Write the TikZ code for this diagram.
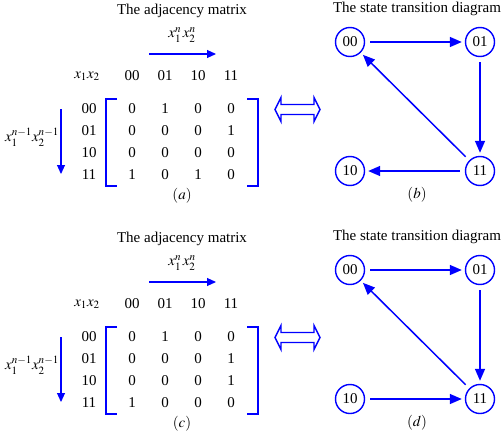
\documentclass[tikz,border=0pt]{standalone}
\usepackage{mathptmx}
\usepackage{fontspec}
\setmainfont{Liberation Serif}
\usetikzlibrary{arrows.meta}

\tikzset{
  state/.style={circle,draw=blue,line width=1.4pt,minimum size=29pt,inner sep=0pt},
  trans/.style={draw=blue,line width=1.5pt,shorten <=5pt,shorten >=3pt,
    -{Triangle[length=12pt,width=10pt]}},
  index/.style={draw=blue,line width=1.1pt,-{Triangle[length=9pt,width=8pt]}},
  bracket/.style={draw=blue,line width=1.6pt},
  equiv/.style={draw=blue,line width=1.4pt,line join=miter},
}

\newcommand{\adjpanel}[3]{%
  % adjacency matrix
  \node (title) at (182,11) {The adjacency matrix};
  \node (colvar) at (182,35) {$x_1^n\,x_2^n$};
  \coordinate (cs) at (149,54);
  \coordinate (ce) at (216,54);
  \draw[index] (cs) -- (ce);
  \node (hd) at (87,76) {$x_1x_2$};
  \foreach \lab [count=\i] in {00,01,10,11} {
    \node (col\i) at (99+33*\i,76) {\lab};
    \node (row\i) at (89,87+22*\i) {\lab};
  }
  \foreach \r/\rowvals in {#1} {
    \foreach \v [count=\c] in \rowvals {
      \node (m\r\c) at (99+33*\c,87+22*\r) {\v};
    }
  }
  \draw[bracket] (117,99) -- (106,99) -- (106,186) -- (117,186);
  \draw[bracket] (247,99) -- (258,99) -- (258,186) -- (247,186);
  \coordinate (rs) at (61,109);
  \coordinate (re) at (61,174);
  \draw[index] (rs) -- (re);
  \node (rowvar) at (32,137) {$x_1^{n-1}x_2^{n-1}$};
  \node (lab) at (182,196) {$(#3)$};
  % equivalence sign
  \draw[equiv] (275,109.5) -- (281,97.5) -- (281,104.5) -- (314,104.5)
    -- (314,97.5) -- (320,109.5) -- (314,121.5) -- (314,114.5)
    -- (281,114.5) -- (281,121.5) -- cycle;
  % state transition diagram
  \node (gtitle) at (417,9) {The state transition diagram};
  \node[state] (s00) at (350,42) {00};
  \node[state] (s01) at (480,42) {01};
  \node[state] (s10) at (350,171) {10};
  \node[state] (s11) at (480,171) {11};
  \foreach \a/\b in {#2} \draw[trans] (s\a) -- (s\b);
  \node (glab) at (417,195) {$(\char\numexpr`#3+1\relax)$};
}

\begin{document}
\begin{tikzpicture}[x=1pt,y=-1pt,font=\fontsize{15}{18}\selectfont]
  \useasboundingbox (0,0) rectangle (503,436);

  \begin{scope}[name prefix=top-]
    \adjpanel{1/{0,1,0,0},2/{0,0,0,1},3/{0,0,0,0},4/{1,0,1,0}}%
      {00/01,01/11,11/00,11/10}{a}
  \end{scope}

  \begin{scope}[yshift=-228pt,name prefix=bot-]
    \adjpanel{1/{0,1,0,0},2/{0,0,0,1},3/{0,0,0,1},4/{1,0,0,0}}%
      {00/01,01/11,11/00,10/11}{c}
  \end{scope}
\end{tikzpicture}
\end{document}
